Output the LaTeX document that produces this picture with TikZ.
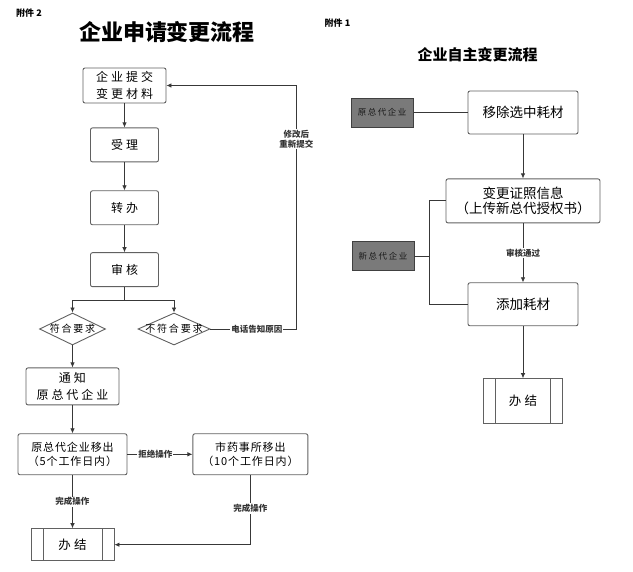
\documentclass[tikz,border=0pt]{standalone}
\usepackage{fontspec}
\usepackage{tikz}
\usetikzlibrary{arrows.meta,positioning,shapes.geometric}
\newfontfamily\cjk{Noto Sans CJK SC}
\newfontfamily\cjkwide[LetterSpace=25]{Noto Sans CJK SC}
\newfontfamily\cjknarrow[LetterSpace=8]{Noto Sans CJK SC}
\newfontfamily\cjkdia[LetterSpace=18]{Noto Sans CJK SC}

\begin{document}
\begin{tikzpicture}[x=1pt,y=-1pt,
  line/.style={draw=black!78,line width=0.8pt},
  arr/.style={line,-{Latex[length=5pt,width=4.5pt]}},
  box/.style={draw=black!62,line width=0.9pt,rounded corners=2pt,fill=white,align=center,
    inner sep=1pt,text=black,minimum width=68,minimum height=34,
    font=\cjkwide\fontsize{12}{17}\selectfont},
  longbox/.style={box,minimum width=109,minimum height=41,font=\cjknarrow\fontsize{11}{13.5}\selectfont},
  rbox/.style={box,minimum width=110,minimum height=43,font=\cjk\fontsize{13.5}{15}\selectfont},
  endbox/.style={box,rounded corners=0pt,minimum width=83,minimum height=32,
    font=\cjkwide\fontsize{12.5}{14}\selectfont,
    path picture={\draw[draw=black!62,line width=0.9pt]
      ([xshift=12pt]path picture bounding box.north west) -- ([xshift=12pt]path picture bounding box.south west)
      ([xshift=-12pt]path picture bounding box.north east) -- ([xshift=-12pt]path picture bounding box.south east);}},
  choice/.style={diamond,draw=black!62,line width=0.9pt,fill=white,inner sep=0pt,minimum height=32},
  choicetext/.style={font=\cjkdia\fontsize{10}{11}\selectfont,text=black,inner sep=0pt},
  party/.style={draw=black!75,line width=0.8pt,fill=black!52,minimum width=62,minimum height=29,
    inner sep=1pt,text=black!90,font=\cjkdia\fontsize{8.5}{10}\selectfont},
  tag/.style={fill=white,inner sep=1pt,text=black!80,align=center,
    font=\cjk\bfseries\fontsize{8.5}{10}\selectfont},
  title/.style={font=\cjk\bfseries\fontsize{22}{24}\selectfont},
  annex/.style={font=\cjk\bfseries\fontsize{9}{10}\selectfont}]
\path[use as bounding box,fill=white] (0,0) rectangle (633,572);
%
% left: application flow
  \node[annex] (annexL) at (29,13) {附件 2};
  \node[title] (titleL) at (167,32) {企业申请变更流程};
  \node[box,minimum width=83,minimum height=35] (submit) at (124.5,85.5) {企业提交\\变更材料};
  \node[box,below=24pt of submit] (accept) {受理};
  \node[box,below=28pt of accept] (transfer) {转办};
  \node[box,below=27pt of transfer] (review) {审核};
  \coordinate[below=13pt of review] (fork);
  \node[choice,minimum width=66,label={[choicetext]center:符合要求}] (ok) at (72.5,329) {};
  \node[choice,minimum width=72,label={[choicetext]center:不符合要求}] (notok) at (174,329) {};
  \node[box,minimum width=93,minimum height=37,below=22pt of ok] (notify) {通知\\原总代企业};
  \node[longbox,below=28pt of notify] (moveold) {原总代企业移出\\（5个工作日内）};
  \node[longbox,minimum width=115,right=65pt of moveold] (movecity) {市药事所移出\\（10个工作日内）};
  \node[endbox,below=53pt of moveold] (closeL) {办结};
%
  \draw[arr] (submit) -- (accept);
  \draw[arr] (accept) -- (transfer);
  \draw[arr] (transfer) -- (review);
  \draw[line] (review) -- (fork);
  \draw[arr] (fork) -| (ok);
  \draw[arr] (fork) -| (notok);
  \draw[arr] (notok.east) -- node[tag,pos=0.54] {电话告知原因} ++(86,0)
    |- node[tag,pos=0.39] {修改后\\重新提交} (submit.east);
  \draw[arr] (ok) -- (notify);
  \draw[arr] (notify) -- (moveold);
  \draw[arr] (moveold) -- node[tag,pos=0.43] {拒绝操作} (movecity);
  \draw[arr] (moveold) -- node[tag] {完成操作} (closeL);
  \draw[arr] (movecity) |- node[tag,pos=0.24] {完成操作} (closeL);
%
% right: self-service flow
  \node[annex] (annexR) at (337.5,23) {附件 1};
  \node[title,font=\cjk\bfseries\fontsize{15}{17}\selectfont] (titleR) at (477.5,55) {企业自主变更流程};
  \node[rbox] (remove) at (523,112.5) {移除选中耗材};
  \node[party,left=54pt of remove] (oldagent) {原总代企业};
  \node[rbox,minimum width=154,minimum height=44,below=44pt of remove] (change) {变更证照信息\\（上传新总代授权书）};
  \node[rbox,below=59pt of change] (addup) {添加耗材};
  \node[endbox,minimum width=79,minimum height=45,below=52pt of addup] (closeR) {办结};
  \node[party] (newagent) at (383,256) {新总代企业};
%
  \draw[line] (oldagent) -- (remove);
  \draw[arr] (remove) -- (change);
  \draw[arr] (change) -- node[tag] {审核通过} (addup);
  \draw[arr] (addup) -- (closeR);
  \draw[line] (change.west) -- ++(-16,0) coordinate (rail) |- (addup.west);
  \draw[line] (newagent) -- (newagent -| rail);
\end{tikzpicture}
\end{document}
